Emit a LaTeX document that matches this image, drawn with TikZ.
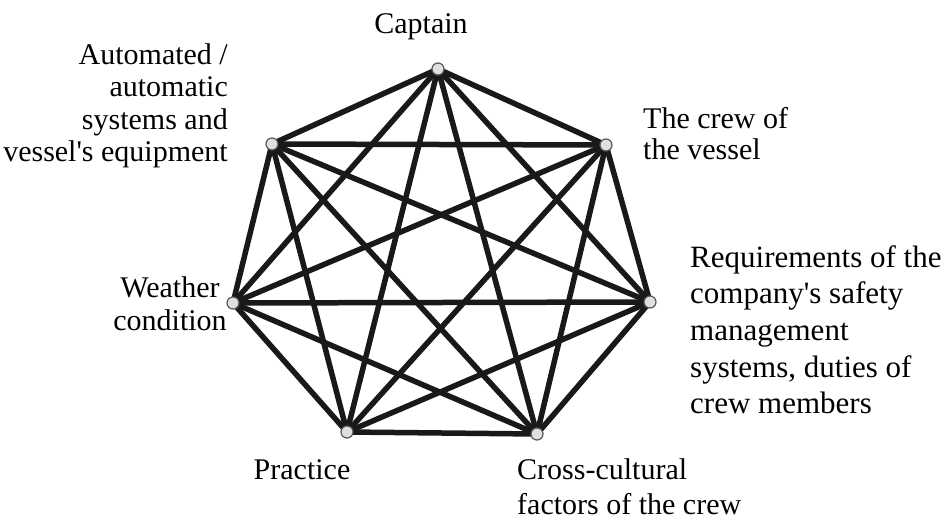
\documentclass[tikz,border=0pt]{standalone}
\usepackage{fontspec}
\setmainfont{Liberation Serif}
\begin{document}
\begin{tikzpicture}[x=1pt,y=-1pt,
  vtx/.style={circle,draw=gray!70!black,fill=gray!25,line width=1.2pt,minimum size=12pt,inner sep=0pt},
  edge/.style={line width=5.5pt,black!90},
  lbl/.style={inner sep=0pt,text=black}]
\useasboundingbox (0,0) rectangle (950,524);
\coordinate (c1) at (438,69);
\coordinate (c2) at (606,145);
\coordinate (c3) at (650,302);
\coordinate (c4) at (537,434);
\coordinate (c5) at (347,432);
\coordinate (c6) at (233,303);
\coordinate (c7) at (272,144);
\foreach \a/\b in {1/2,1/3,1/4,1/5,1/6,1/7,2/3,2/4,2/5,2/6,2/7,3/4,3/5,3/6,3/7,4/5,4/6,4/7,5/6,5/7,6/7}
  \draw[edge] (c\a) -- (c\b);
\foreach \i in {1,...,7}
  \node[vtx] (v\i) at (c\i) {};
\node[lbl,anchor=north,font=\fontsize{30}{32.5}\selectfont] (captain) at (421,13) {Captain};
\node[lbl,anchor=north east,align=right,font=\fontsize{30}{32.5}\selectfont] (auto) at (228,43) {Automated /\\automatic\\systems and\\vessel\textquotesingle s equipment};
\node[lbl,anchor=north west,align=left,font=\fontsize{30}{31}\selectfont] (crew) at (643,107) {The crew of\\the vessel};
\node[lbl,anchor=north west,align=left,font=\fontsize{31}{36.7}\selectfont] (req) at (690,245) {Requirements of the\\company\textquotesingle s safety\\management\\systems, duties of\\crew members};
\node[lbl,anchor=north,align=center,font=\fontsize{30}{33}\selectfont] (weather) at (170,276) {Weather\\condition};
\node[lbl,anchor=north,font=\fontsize{30}{32.5}\selectfont] (practice) at (302,459) {Practice};
\node[lbl,anchor=north west,align=left,font=\fontsize{30}{35}\selectfont] (cross) at (517,458) {Cross-cultural\\factors of the crew};
\end{tikzpicture}
\end{document}
